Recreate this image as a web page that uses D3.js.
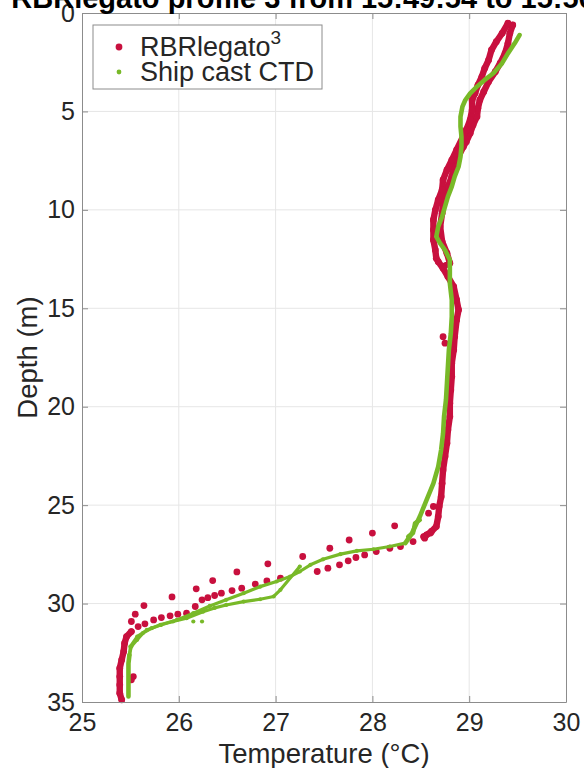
<!DOCTYPE html>
<html>
<head>
<meta charset="utf-8">
<script src="https://cdn.jsdelivr.net/npm/d3@7"></script>
<style>
  body { margin: 0; background: #fff; }
  svg { display: block; font-family: "Liberation Sans", Arial, Helvetica, sans-serif; }
</style>
</head>
<body>
<script>
// Temperature / depth pairs: [°C, m]
// RBRlegato3 - first pass through the mixed layer (left branch at the top)
const rbrMixed = [
  [29.40, 0.52], [29.34, 1.03], [29.28, 1.46], [29.23, 1.88], [29.20, 2.39], [29.16, 2.81],
  [29.13, 3.24], [29.09, 3.66], [29.06, 4.08], [29.03, 4.42], [29.03, 4.93], [29.01, 5.43],
  [28.97, 5.94], [28.87, 6.96], [28.82, 7.47], [28.77, 7.97], [28.73, 8.48], [28.72, 8.99],
  [28.68, 9.50], [28.65, 10.01], [28.63, 10.51], [28.63, 11.02], [28.63, 11.53], [28.65, 12.04],
  [28.66, 12.46], [28.68, 12.63], [28.73, 12.97], [28.78, 13.39], [28.84, 13.90], [28.87, 14.58],
  [28.89, 15.08], [28.87, 15.59], [28.85, 16.44], [28.84, 17.12], [28.82, 17.79], [28.82, 18.47],
  [28.81, 19.15], [28.80, 19.82], [28.80, 20.50], [28.78, 21.18], [28.77, 21.85], [28.75, 22.53],
  [28.73, 23.21], [28.72, 23.89], [28.71, 24.57], [28.69, 25.07], [28.68, 25.58], [28.66, 26.09],
  [28.61, 26.34], [28.56, 26.51], [28.53, 26.60]
];

// RBRlegato3 - samples through the thermocline
const rbrThermocline = [
  [28.42, 26.85], [28.29, 27.10], [28.18, 27.19], [28.04, 27.36], [27.92, 27.53], [27.83, 27.66],
  [27.75, 27.83], [27.66, 28.03], [27.54, 28.20], [27.43, 28.37], [27.05, 28.71], [26.91, 28.85],
  [26.79, 29.01], [26.65, 29.22], [26.55, 29.34], [26.44, 29.47], [26.37, 29.59], [26.30, 29.70],
  [26.24, 29.81], [26.17, 30.15], [26.08, 30.49], [25.99, 30.54], [25.91, 30.62], [25.82, 30.71],
  [25.74, 30.83], [25.65, 31.03], [25.58, 31.17]
];

// RBRlegato3 - bottom layer
const rbrBottom = [
  [25.51, 31.42], [25.46, 31.68], [25.44, 32.01], [25.43, 32.44], [25.41, 32.86], [25.39, 33.28],
  [25.39, 33.71], [25.39, 34.13], [25.39, 34.55], [25.41, 34.89]
];

// RBRlegato3 - second pass (right branch at the top)
const rbrPassB = [
  [29.45, 0.61], [29.42, 1.03], [29.40, 1.54], [29.37, 2.05], [29.32, 2.55], [29.27, 2.98],
  [29.20, 3.49], [29.15, 4.00], [29.11, 4.42], [29.09, 4.84], [29.08, 5.27], [29.04, 5.69],
  [29.01, 6.11], [28.97, 6.54], [28.94, 6.79], [28.87, 7.47], [28.84, 7.81], [28.82, 8.31],
  [28.78, 8.82], [28.73, 9.50], [28.72, 10.17], [28.70, 10.85], [28.72, 11.60], [28.77, 12.20],
  [28.80, 12.71], [28.73, 12.88]
];

// RBRlegato3 - loose samples above the thermocline trace and stray points
const rbrLoose = [
  [28.23, 26.05], [28.00, 26.42], [27.76, 26.77], [27.56, 27.19], [27.28, 27.61], [26.92, 27.98],
  [26.60, 28.39], [26.35, 28.83], [26.18, 29.25], [25.93, 29.66], [25.64, 30.10], [25.55, 30.54],
  [25.51, 30.91], [28.60, 26.42], [28.54, 26.68], [28.73, 16.44], [28.75, 16.77], [28.63, 25.07],
  [28.58, 25.41], [25.53, 33.71], [25.51, 33.87]
];

// Ship cast CTD - mixed layer
const ctdMixed = [
  [29.52, 1.12], [29.47, 1.54], [29.40, 2.05], [29.34, 2.55], [29.25, 3.06], [29.16, 3.40],
  [29.08, 3.74], [29.01, 4.08], [28.96, 4.42], [28.93, 4.76], [28.91, 5.27], [28.91, 5.77],
  [28.92, 6.28], [28.92, 6.79], [28.91, 7.30], [28.89, 7.81], [28.85, 8.31], [28.82, 8.82],
  [28.78, 9.33], [28.75, 9.84], [28.72, 10.35], [28.68, 10.85], [28.66, 11.36], [28.70, 11.70],
  [28.75, 12.04], [28.80, 12.54], [28.80, 12.90], [28.80, 13.73], [28.82, 14.58], [28.82, 15.42],
  [28.81, 16.27], [28.79, 17.12], [28.78, 17.96], [28.77, 18.81], [28.76, 19.65], [28.74, 20.50],
  [28.73, 21.35], [28.71, 22.19], [28.68, 23.04], [28.63, 23.89], [28.56, 24.73], [28.49, 25.58],
  [28.41, 26.42], [28.34, 26.93]
];

// Ship cast CTD - thermocline (upper strand)
const ctdThermocline = [
  [28.18, 27.10], [28.01, 27.24], [27.84, 27.32], [27.67, 27.49], [27.49, 27.75], [27.36, 28.03],
  [27.25, 28.37], [27.15, 28.63], [27.01, 28.88], [26.84, 29.14], [26.67, 29.47], [26.49, 29.81],
  [26.32, 30.12], [26.15, 30.49], [25.98, 30.83], [25.81, 31.08], [25.67, 31.34], [25.57, 31.68],
  [25.50, 32.18]
];

// Ship cast CTD - bottom layer
const ctdBottom = [
  [25.49, 32.61], [25.48, 33.03], [25.48, 33.45], [25.48, 33.87], [25.48, 34.30], [25.48, 34.72]
];

// Ship cast CTD - second strand near the base of the mixed layer
const ctdSteep = [
  [28.49, 25.75], [28.44, 25.92], [28.42, 26.42], [28.37, 26.60]
];

// Ship cast CTD - lower strand through the thermocline
const ctdLoop = [
  [27.25, 28.12], [27.05, 29.30], [26.98, 29.64], [26.84, 29.78], [26.67, 29.90], [26.49, 30.07],
  [26.37, 30.22], [26.25, 30.41], [26.08, 30.74], [25.94, 30.91], [25.82, 31.08], [25.72, 31.25],
  [25.63, 31.50], [25.57, 31.84], [25.51, 32.18], [25.49, 32.61]
];

const ctdLoose = [[26.24, 30.91], [26.15, 30.91]];

const xTicks = [25, 26, 27, 28, 29, 30];
const yTicks = [0, 5, 10, 15, 20, 25, 30, 35];
const seriesNames = ["RBRlegato", "Ship cast CTD"];

const width = 584, height = 768;
const margin = { top: 13, right: 18, bottom: 66, left: 82 };
const red = "#c8103e", green = "#78b928";

const svg = d3.select("body").append("svg")
    .attr("width", width)
    .attr("height", height);

const x = d3.scaleLinear()
    .domain([25, 30])
    .range([margin.left, width - margin.right]);

const y = d3.scaleLinear()
    .domain([0, 35])
    .range([margin.top, height - margin.bottom]);

// grid
svg.append("g").selectAll("line")
    .data(xTicks.slice(1, -1))
    .enter().append("line")
    .attr("x1", d => x(d)).attr("x2", d => x(d))
    .attr("y1", y(0)).attr("y2", y(35))
    .attr("stroke", "#e6e6e6");

svg.append("g").selectAll("line")
    .data(yTicks.slice(1, -1))
    .enter().append("line")
    .attr("x1", x(25)).attr("x2", x(30))
    .attr("y1", d => y(d)).attr("y2", d => y(d))
    .attr("stroke", "#e6e6e6");

// data
const line = d3.line()
    .x(d => x(d[0]))
    .y(d => y(d[1]));

function drawPath(data, color, w) {
    svg.append("path")
        .datum(data)
        .attr("d", line)
        .attr("fill", "none")
        .attr("stroke", color)
        .attr("stroke-width", w)
        .attr("stroke-linecap", "round")
        .attr("stroke-linejoin", "round");
}

function drawDots(data, color, r) {
    svg.append("g").selectAll("circle")
        .data(data)
        .enter().append("circle")
        .attr("cx", d => x(d[0]))
        .attr("cy", d => y(d[1]))
        .attr("r", r)
        .attr("fill", color);
}

// RBRlegato3: dense where the profiler sampled slowly, separate dots in the thermocline
drawPath(rbrPassB, red, 6.4);
drawDots(rbrPassB, red, 3.4);
drawPath(rbrMixed, red, 6.4);
drawDots(rbrMixed, red, 3.4);
drawDots(rbrThermocline, red, 3.4);
drawPath(rbrBottom, red, 6.4);
drawDots(rbrBottom, red, 3.4);
drawDots(rbrLoose, red, 3.4);

// Ship cast CTD on top
drawPath(ctdLoop, green, 3.2);
drawDots(ctdLoop, green, 2.1);
drawPath([ctdMixed[ctdMixed.length - 1], ...ctdThermocline, ctdBottom[0]], green, 3.2);
drawDots(ctdThermocline, green, 2.1);
drawPath(ctdSteep, green, 4.4);
drawPath(ctdMixed, green, 4.6);
drawPath(ctdBottom, green, 4.6);
drawDots(ctdLoose, green, 2.1);

// axes with inward ticks on all four sides
const tickLen = 6;
const axisColor = "#8c8c8c";

const xAxis = svg.append("g")
    .attr("transform", `translate(0,${y(35)})`)
    .call(d3.axisBottom(x).tickValues(xTicks).tickFormat(d3.format("d"))
        .tickSizeInner(-tickLen).tickSizeOuter(0).tickPadding(11));

const yAxis = svg.append("g")
    .attr("transform", `translate(${x(25)},0)`)
    .call(d3.axisLeft(y).tickValues(yTicks).tickFormat(d3.format("d"))
        .tickSizeInner(-tickLen).tickSizeOuter(0).tickPadding(7));

const xTop = svg.append("g")
    .attr("transform", `translate(0,${y(0)})`)
    .call(d3.axisTop(x).tickValues(xTicks).tickFormat("")
        .tickSizeInner(-tickLen).tickSizeOuter(0));

const yRight = svg.append("g")
    .attr("transform", `translate(${x(30)},0)`)
    .call(d3.axisRight(y).tickValues(yTicks).tickFormat("")
        .tickSizeInner(-tickLen).tickSizeOuter(0));

[xAxis, yAxis, xTop, yRight].forEach(g => {
    g.select(".domain").attr("stroke", axisColor);
    g.selectAll(".tick line").attr("stroke", axisColor);
    g.selectAll(".tick text")
        .attr("fill", "#262626")
        .style("font-size", "25px")
        .style("font-family", "'Liberation Sans', Arial, Helvetica, sans-serif");
});

// axis labels
svg.append("text")
    .attr("x", (x(25) + x(30)) / 2)
    .attr("y", 763)
    .attr("text-anchor", "middle")
    .attr("fill", "#262626")
    .style("font-size", "27.5px")
    .text("Temperature (°C)");

svg.append("text")
    .attr("transform", `translate(37,${(y(0) + y(35)) / 2}) rotate(-90)`)
    .attr("text-anchor", "middle")
    .attr("fill", "#262626")
    .style("font-size", "27.5px")
    .text("Depth (m)");

// title (runs off the top of the figure, as in the original)
svg.append("text")
    .attr("x", (x(25) + x(30)) / 2)
    .attr("y", 8)
    .attr("text-anchor", "middle")
    .attr("fill", "#000")
    .style("font-size", "29px")
    .style("font-weight", "bold")
    .text("RBRlegato profile 3 from 15:49:54 to 15:50:36");

// legend
const legend = svg.append("g").attr("transform", "translate(93,25)");

legend.append("rect")
    .attr("width", 229)
    .attr("height", 64)
    .attr("fill", "#fff")
    .attr("stroke", "#8c8c8c");

[red, green].forEach((c, i) => {
    legend.append("circle")
        .attr("cx", 26)
        .attr("cy", 22 + i * 25)
        .attr("r", i === 0 ? 3.4 : 2.4)
        .attr("fill", c);

    const t = legend.append("text")
        .attr("x", 47)
        .attr("y", 31 + i * 25)
        .attr("fill", "#262626")
        .style("font-size", "27px")
        .text(seriesNames[i]);

    if (i === 0) {
        t.append("tspan")
            .attr("dy", -12)
            .style("font-size", "19px")
            .text("3");
    }
});
</script>
</body>
</html>
